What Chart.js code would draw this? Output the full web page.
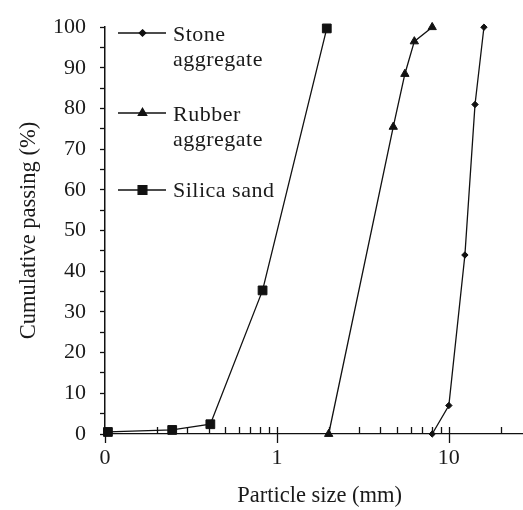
<!DOCTYPE html>
<html>
<head>
<meta charset="utf-8">
<script src="https://cdn.jsdelivr.net/npm/chart.js@4/dist/chart.umd.min.js"></script>
<style>
  html, body { margin: 0; padding: 0; background: #fff; }
  #wrap { width: 523px; height: 510px; }
</style>
</head>
<body>
<div id="wrap"><canvas id="gradation" width="523" height="510"></canvas></div>
<script>
// === Data ===
const seriesNames = [['Stone', 'aggregate'], ['Rubber', 'aggregate'], ['Silica sand']];

const stoneSize = [8, 10, 12.4, 14.2, 16];
const stonePass = [0, 7, 44, 81, 100];

const rubberSize = [2, 4.75, 5.55, 6.3, 8];
const rubberPass = [0, 75.5, 88.5, 96.5, 100];

const silicaSize = [0.104, 0.246, 0.41, 0.825, 1.95];
const silicaPass = [0.5, 1, 2.4, 35.3, 99.7];

const xTickValues = [0.1, 1, 10];
const xTickLabels = ['0', '1', '10'];
const yTickLabels = ['0', '10', '20', '30', '40', '50', '60', '70', '80', '90', '100'];

const X_MIN = 0.1, X_MAX = 27;

const INK = '#111';
const FONT = "'Liberation Serif', 'Times New Roman', serif";
Chart.defaults.font.family = FONT;
Chart.defaults.font.size = 22;
Chart.defaults.color = '#1a1a1a';

function toPoints(xs, ys) {
  return xs.map((x, i) => ({ x: x, y: ys[i] }));
}

// minor tick positions for the log axis: 0.1..0.9, 1..9, 10, 20
const xAllTicks = [];
[0.1, 1, 10].forEach(dec => {
  for (let k = 1; k <= 9; k++) {
    const v = +(k * dec).toPrecision(3);
    if (v <= X_MAX) xAllTicks.push(v);
  }
});

// === Let the plot run to the right edge of the canvas (axis is cut off there) ===
const fullWidthArea = {
  id: 'fullWidthArea',
  afterLayout(chart) {
    const area = chart.chartArea;
    const sx = chart.scales.x;
    area.right = chart.width;
    area.width = area.right - area.left;
    sx.right = area.right;
    sx.width = area.width;
    sx.configure();
  }
};

// === Excel-style x ticks: minor inside, major crossing ===
const xTickMarks = {
  id: 'xTickMarks',
  afterDraw(chart) {
    const sx = chart.scales.x;
    const y0 = chart.chartArea.bottom;
    const ctx = chart.ctx;
    ctx.save();
    ctx.strokeStyle = INK;
    ctx.lineWidth = 1.3;
    xAllTicks.forEach(v => {
      const px = Math.round(sx.getPixelForValue(v)) + 0.5;
      const major = xTickValues.includes(v);
      ctx.beginPath();
      ctx.moveTo(px, y0 - 7);
      ctx.lineTo(px, major ? y0 + 9 : y0);
      ctx.stroke();
    });
    ctx.restore();
  }
};

// === Legend inside the plot, two-line labels ===
const legendRows = [
  { lineY: 33, textY: 40.5 },
  { lineY: 113, textY: 120.5 },
  { lineY: 190, textY: 197 }
];

function drawMarker(ctx, style, x, y, r) {
  ctx.beginPath();
  if (style === 'rect') {
    const s = r * Math.SQRT1_2;
    ctx.rect(x - s, y - s, 2 * s, 2 * s);
  } else if (style === 'triangle') {
    ctx.moveTo(x, y - r);
    ctx.lineTo(x + r * 0.866, y + r * 0.5);
    ctx.lineTo(x - r * 0.866, y + r * 0.5);
    ctx.closePath();
  } else {
    ctx.moveTo(x, y - r);
    ctx.lineTo(x + r, y);
    ctx.lineTo(x, y + r);
    ctx.lineTo(x - r, y);
    ctx.closePath();
  }
  ctx.fill();
  ctx.stroke();
}

const insideLegend = {
  id: 'insideLegend',
  afterDraw(chart) {
    const ctx = chart.ctx;
    ctx.save();
    ctx.font = '22px ' + FONT;
    ctx.letterSpacing = '0.5px';
    ctx.textBaseline = 'alphabetic';
    ctx.textAlign = 'left';
    chart.data.datasets.forEach((ds, i) => {
      const row = legendRows[i];
      ctx.strokeStyle = INK;
      ctx.fillStyle = INK;
      ctx.lineWidth = 1.3;
      ctx.beginPath();
      ctx.moveTo(118, row.lineY);
      ctx.lineTo(166, row.lineY);
      ctx.stroke();
      drawMarker(ctx, ds.pointStyle, 142.5, row.lineY, ds.pointRadius);
      ctx.fillStyle = '#1a1a1a';
      seriesNames[i].forEach((t, j) => ctx.fillText(t, 173, row.textY + j * 25.5));
    });
    ctx.restore();
  }
};

const baseSet = {
  borderColor: INK,
  backgroundColor: INK,
  pointBackgroundColor: INK,
  pointBorderColor: INK,
  borderWidth: 1.3,
  pointBorderWidth: 1,
  tension: 0,
  clip: false
};

new Chart(document.getElementById('gradation'), {
  type: 'line',
  data: {
    datasets: [
      Object.assign({}, baseSet, { label: 'Stone aggregate', data: toPoints(stoneSize, stonePass), pointStyle: 'rectRot', pointRadius: 3.2 }),
      Object.assign({}, baseSet, { label: 'Rubber aggregate', data: toPoints(rubberSize, rubberPass), pointStyle: 'triangle', pointRadius: 4.8 }),
      Object.assign({}, baseSet, { label: 'Silica sand', data: toPoints(silicaSize, silicaPass), pointStyle: 'rect', pointRadius: 6.2 })
    ]
  },
  options: {
    responsive: false,
    animation: false,
    events: [],
    layout: { padding: { top: 24, right: 0, left: 0, bottom: 0 } },
    plugins: {
      legend: { display: false },
      tooltip: { enabled: false }
    },
    scales: {
      x: {
        type: 'logarithmic',
        min: X_MIN,
        max: X_MAX,
        afterBuildTicks: scale => {
          scale.ticks = xAllTicks.map(v => ({ value: v, major: xTickValues.includes(v) }));
        },
        afterFit: scale => { scale.height = 76; },
        grid: { display: true, drawOnChartArea: false, drawTicks: false },
        border: { display: true, color: INK, width: 1.3 },
        ticks: {
          autoSkip: false,
          maxRotation: 0,
          padding: 11,
          callback: value => {
            const i = xTickValues.indexOf(+(+value).toPrecision(3));
            return i >= 0 ? xTickLabels[i] : '';
          }
        },
        title: { display: true, text: '\u2002Particle size (mm)', font: { size: 22.5 }, padding: { top: 0, bottom: 0 } }
      },
      y: {
        min: 0,
        max: 100,
        afterFit: scale => { scale.width = 105; },
        grid: { drawOnChartArea: false, tickLength: 5, tickColor: INK, tickWidth: 1.3 },
        border: { display: true, color: INK, width: 1.5 },
        ticks: {
          stepSize: 5,
          autoSkip: false,
          padding: 14,
          callback: value => (value % 10 === 0 ? yTickLabels[value / 10] : '')
        },
        title: { display: true, text: 'Cumulative passing (%)', font: { size: 22.5 }, padding: { top: 16, bottom: 0 } }
      }
    }
  },
  plugins: [fullWidthArea, xTickMarks, insideLegend]
});
</script>
</body>
</html>
